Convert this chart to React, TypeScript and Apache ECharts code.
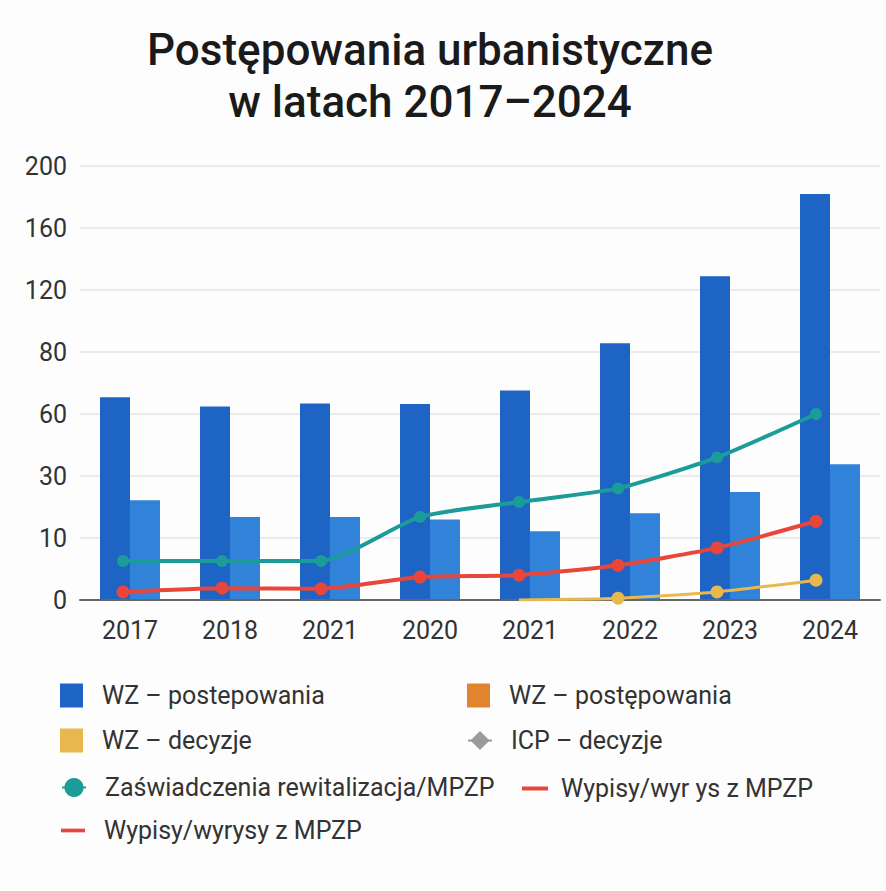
import React, { useEffect, useRef } from "react";
import * as echarts from "echarts";

const categories = ["2017", "2018", "2021", "2020", "2021", "2022", "2023", "2024"];
const yTicks = [0, 10, 30, 60, 80, 120, 160, 200];

const wzPostepowania = [65.4, 62.4, 63.4, 63.2, 67.6, 85.6, 128.8, 182];
const wzPostepowania2 = [22.2, 16.8, 16.8, 16, 12.2, 18, 24.8, 35.7];
const wzDecyzje: (number | null)[] = [null, null, null, null, 0, 0.3, 1.3, 3.2];
const zaswiadczenia = [6.3, 6.3, 6.3, 16.8, 21.6, 26, 39, 60];
const wypisy = [1.3, 1.9, 1.8, 3.7, 4.0, 5.6, 8.4, 15.4];

const names = {
  a: "WZ – postepowania",
  b: "WZ – postępowania",
  c: "WZ – decyzje",
  d: "ICP – decyzje",
  e: "Zaświadczenia rewitalizacja/MPZP",
  f: "Wypisy/wyr ys z MPZP",
  g: "Wypisy/wyrysy z MPZP",
};

const colors = {
  dark: "#1e64c4",
  light: "#3083d9",
  orange: "#e0852d",
  yellow: "#e8b84e",
  gray: "#9b9b9b",
  teal: "#1b9c98",
  red: "#e8463a",
};

// piecewise axis: ticks evenly spaced, values interpolated between them
function toPos(v: number | null): number | null {
  if (v === null) return null;
  for (let i = 0; i < yTicks.length - 1; i++) {
    if (v <= yTicks[i + 1]) {
      return i + (v - yTicks[i]) / (yTicks[i + 1] - yTicks[i]);
    }
  }
  return yTicks.length - 1;
}

const FONT = "Roboto, 'Noto Sans', sans-serif";
const LINE_ICON = "path://M0,0L26,0L26,4L0,4Z";

export default function App() {
  const ref = useRef<HTMLDivElement>(null);
  useEffect(() => {
    document.body.style.margin = "0";
    const chart = echarts.init(ref.current!, undefined, { renderer: "svg" });
    const legendText = { fontSize: 25, color: "#333", fontFamily: FONT, padding: [0, 0, 0, 14] };
    const legendBase = { padding: 0, itemHeight: 24, textStyle: legendText, selectedMode: false };
    const grids = [
      { left: 80, right: 6, top: 166, bottom: 291 },
      { left: 73.5, right: 20.5, top: 166, bottom: 291 },
    ];
    const option: any = {
      animation: false,
      backgroundColor: "#fdfdfd",
      title: {
        text: "Postępowania urbanistyczne\nw latach 2017–2024",
        left: 430,
        top: 24,
        padding: 0,
        textAlign: "center",
        textStyle: { fontSize: 44, fontWeight: 500, color: "#1a1a1a", lineHeight: 52, fontFamily: FONT },
      },
      grid: grids,
      xAxis: [
        {
          type: "category",
          gridIndex: 0,
          z: 3,
          data: categories,
          axisLine: { lineStyle: { color: "#666", width: 2 } },
          axisTick: { show: false },
          axisLabel: { fontSize: 25, color: "#333", margin: 18, fontFamily: FONT },
        },
        { type: "category", gridIndex: 1, data: categories, show: false },
      ],
      yAxis: [
        {
          type: "value",
          gridIndex: 0,
          min: 0,
          max: yTicks.length - 1,
          interval: 1,
          axisLine: { show: false },
          axisTick: { show: false },
          splitLine: { lineStyle: { color: "#ebebeb", width: 2 } },
          axisLabel: {
            fontSize: 25,
            color: "#333",
            margin: 13,
            fontFamily: FONT,
            formatter: (v: number) => String(yTicks[Math.round(v)]),
          },
        },
        { type: "value", gridIndex: 1, min: 0, max: yTicks.length - 1, show: false },
      ],
      legend: [
        { ...legendBase, left: 60, top: 683, itemWidth: 23, data: [{ name: names.a, icon: "rect" }] },
        { ...legendBase, left: 467, top: 683, itemWidth: 23, data: [{ name: names.b, icon: "rect", itemStyle: { color: colors.orange } }] },
        { ...legendBase, left: 60, top: 728, itemWidth: 23, data: [{ name: names.c, icon: "rect" }] },
        { ...legendBase, left: 467, top: 728, itemWidth: 24, data: [{ name: names.d }] },
        { ...legendBase, left: 61, top: 775, itemWidth: 24, data: [{ name: names.e }] },
        { ...legendBase, left: 522, top: 776, itemWidth: 26, textStyle: { ...legendText, padding: [0, 0, 0, 8] }, data: [{ name: names.f, icon: LINE_ICON }] },
        { ...legendBase, left: 61, top: 818, itemWidth: 24, data: [{ name: names.g, icon: LINE_ICON }] },
      ],
      series: [
        {
          name: names.a,
          type: "bar",
          xAxisIndex: 0,
          yAxisIndex: 0,
          barWidth: 30,
          barGap: "0%",
          itemStyle: { color: colors.dark },
          data: wzPostepowania.map(toPos),
        },
        {
          name: names.b,
          type: "bar",
          xAxisIndex: 0,
          yAxisIndex: 0,
          barWidth: 30,
          barGap: "0%",
          itemStyle: { color: colors.light },
          data: wzPostepowania2.map(toPos),
        },
        {
          name: names.c,
          type: "line",
          xAxisIndex: 1,
          yAxisIndex: 1,
          smooth: 0.2,
          symbol: "circle",
          symbolSize: 13,
          lineStyle: { width: 3, color: colors.yellow },
          itemStyle: { color: colors.yellow },
          data: wzDecyzje.map((v, i) =>
            i === 4 ? { value: toPos(v), symbol: "none" } : toPos(v)
          ),
        },
        {
          name: names.d,
          type: "line",
          xAxisIndex: 1,
          yAxisIndex: 1,
          symbol: "diamond",
          symbolSize: 12,
          lineStyle: { width: 3, color: colors.gray },
          itemStyle: { color: colors.gray },
          data: [],
        },
        {
          name: names.e,
          type: "line",
          xAxisIndex: 1,
          yAxisIndex: 1,
          smooth: 0.2,
          symbol: "circle",
          symbolSize: 12,
          lineStyle: { width: 4, color: colors.teal },
          itemStyle: { color: colors.teal },
          data: zaswiadczenia.map(toPos),
        },
        {
          name: names.f,
          type: "line",
          xAxisIndex: 1,
          yAxisIndex: 1,
          smooth: 0.2,
          symbol: "circle",
          symbolSize: 13,
          lineStyle: { width: 4, color: colors.red },
          itemStyle: { color: colors.red },
          data: wypisy.map(toPos),
        },
        {
          name: names.g,
          type: "line",
          xAxisIndex: 1,
          yAxisIndex: 1,
          symbol: "circle",
          symbolSize: 12,
          lineStyle: { width: 4, color: colors.red },
          itemStyle: { color: colors.red },
          data: [],
        },
      ],
    };
    chart.setOption(option);
    return () => chart.dispose();
  }, []);
  return <div ref={ref} style={{ width: 886, height: 891 }} />;
}
